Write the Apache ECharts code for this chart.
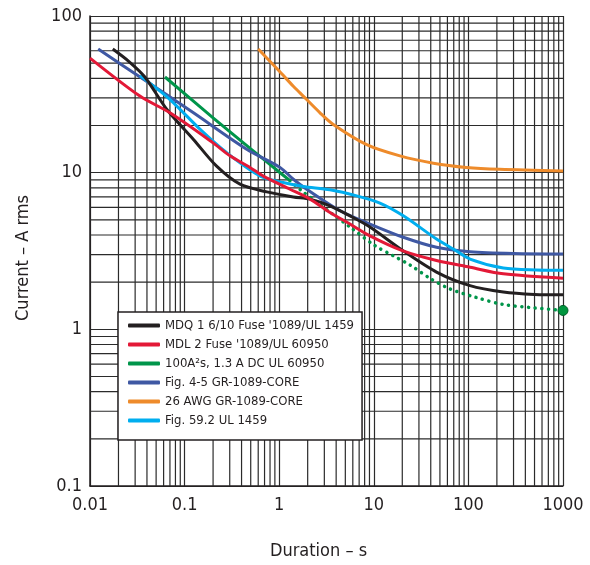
<!DOCTYPE html>
<html>
<head>
<meta charset="utf-8">
<script src="https://cdn.jsdelivr.net/npm/echarts@6/dist/echarts.min.js"></script>
<style>
  html, body { margin: 0; padding: 0; background: #fff; }
  #main { width: 590px; height: 565px; }
</style>
</head>
<body>
<div id="main"></div>
<script>
// durations (s) and currents (A rms)
var blackT = [0.0174, 0.026, 0.038, 0.065, 0.124, 0.218, 0.385, 0.74, 1.41, 2.12, 3.44, 5.6, 9.1, 20, 46, 104, 234, 500, 1000];
var blackI = [61.5, 51, 40.8, 25.3, 16.3, 11.0, 8.44, 7.54, 7.0, 6.78, 6.14, 5.3, 4.5, 3.2, 2.32, 1.9, 1.73, 1.67, 1.66];

var redT = [0.01, 0.034, 0.07, 0.2, 0.302, 0.49, 0.68, 1.3, 2.12, 3.44, 5.6, 9.1, 20, 46, 104, 234, 1000];
var redI = [53.9, 30.7, 24.1, 15.5, 12.8, 10.8, 9.5, 7.84, 6.78, 5.57, 4.7, 3.95, 3.18, 2.75, 2.49, 2.26, 2.12];

var greenT = [0.062, 0.2, 0.5, 1.0, 1.3];
var greenI = [40.8, 22.4, 14.2, 10.1, 8.9];

var greenDotT = [1.3, 1.73, 2.5, 3.44, 5.6, 10.3, 16, 24, 40, 64, 120, 234, 500, 1000];
var greenDotI = [8.9, 7.65, 6.5, 5.6, 4.5, 3.42, 2.95, 2.58, 2.1, 1.81, 1.6, 1.44, 1.37, 1.32];

var blueT = [0.0122, 0.0338, 0.124, 0.453, 1.02, 1.41, 1.95, 4.4, 9.12, 20.5, 46, 104, 300, 1000];
var blueI = [61.5, 40.8, 24.1, 14.1, 10.8, 9.08, 7.84, 5.71, 4.7, 3.87, 3.34, 3.13, 3.05, 3.03];

var orangeT = [0.6, 1.0, 1.41, 1.66, 2.7, 3.73, 8.4, 18.9, 42.6, 95, 214, 1000];
var orangeI = [61.5, 44.5, 35.6, 32.3, 24.1, 20.3, 15.1, 12.8, 11.5, 10.8, 10.5, 10.25];

var cyanT = [0.0338, 0.07, 0.146, 0.279, 0.63, 1.1, 1.8, 3.44, 6.6, 11.6, 20.5, 46, 69, 104, 234, 525, 1000];
var cyanI = [41.6, 29.3, 18.9, 13.4, 9.5, 8.65, 8.17, 7.77, 7.11, 6.4, 5.31, 3.77, 3.26, 2.81, 2.46, 2.39, 2.38];

var names = [
  "MDQ 1 6/10 Fuse '1089/UL 1459",
  "MDL 2 Fuse '1089/UL 60950",
  '100A\u00b2s, 1.3 A DC UL 60950',
  'Fig. 4-5 GR-1089-CORE',
  '26 AWG GR-1089-CORE',
  'Fig. 59.2 UL 1459'
];
var colors = ['#231f20', '#e31937', '#00954a', '#3f58a3', '#ee8b2b', '#00aeef'];

// log paper minor lines (2..9 of every decade)
var xDecades = [0.01, 0.1, 1, 10, 100];
var yDecades = [0.1, 1, 10];
var mult = [2, 3, 4, 5, 6, 7, 8, 9];

var font = "'Liberation Sans Narrow', 'DejaVu Sans Condensed', 'Noto Sans', sans-serif";
var gridColor = '#2b2b2b';

function pairs(t, i) {
  return t.map(function (v, k) { return [v, i[k]]; });
}

var xMinor = [];
xDecades.forEach(function (d) { mult.forEach(function (m) { xMinor.push([+(d * m).toPrecision(3), 1]); }); });
var yMinor = [];
yDecades.forEach(function (d) { mult.forEach(function (m) { yMinor.push([1, +(d * m).toPrecision(3)]); }); });

var chart = echarts.init(document.getElementById('main'));

function curve(idx, t, i) {
  return {
    name: names[idx],
    type: 'line',
    data: pairs(t, i),
    smooth: 0.3,
    symbol: 'none',
    z: 3,
    lineStyle: { color: colors[idx], width: 3 },
    itemStyle: { color: colors[idx] }
  };
}

var dotData = pairs(greenDotT, greenDotI);
dotData[dotData.length - 1] = {
  value: dotData[dotData.length - 1],
  symbol: 'circle',
  symbolSize: 10,
  itemStyle: { color: '#00963f', borderColor: '#005f28', borderWidth: 1 }
};

var option = {
  animation: false,
  grid: { left: 90, top: 16, right: 27, bottom: 77 },
  textStyle: { fontFamily: font },
  legend: {
    data: names,
    orient: 'vertical',
    left: 118,
    top: 312,
    backgroundColor: '#fff',
    borderColor: '#231f20',
    borderWidth: 1.5,
    borderRadius: 0,
    padding: [7, 8, 13, 10],
    itemGap: 6,
    itemWidth: 32,
    itemHeight: 4,
    icon: 'roundRect',
    selectedMode: false,
    textStyle: { fontFamily: font, fontSize: 13, color: '#231f20' }
  },
  xAxis: {
    type: 'log',
    logBase: 10,
    min: 0.01,
    max: 1000,
    name: 'Duration \u2013 s',
    nameLocation: 'middle',
    nameGap: 50,
    nameTextStyle: { fontFamily: font, fontSize: 18, color: '#231f20', padding: [6, 16, 0, 0] },
    axisLine: { show: true, lineStyle: { color: '#231f20', width: 1.5 } },
    axisTick: { show: false },
    axisLabel: {
      fontFamily: font, fontSize: 18, color: '#231f20', margin: 10,
      formatter: function (v) { return String(v); }
    },
    splitLine: { show: true, lineStyle: { color: gridColor, width: 1.2 } }
  },
  yAxis: {
    type: 'log',
    logBase: 10,
    min: 0.1,
    max: 100,
    name: 'Current \u2013 A rms',
    nameLocation: 'middle',
    nameGap: 58,
    nameTextStyle: { fontFamily: font, fontSize: 18, color: '#231f20', padding: [0, 14, 0, 0] },
    axisLine: { show: true, lineStyle: { color: '#231f20', width: 1.5 } },
    axisTick: { show: false },
    axisLabel: {
      fontFamily: font, fontSize: 18, color: '#231f20', margin: 8,
      formatter: function (v) { return String(v); }
    },
    splitLine: { show: true, lineStyle: { color: gridColor, width: 1.2 } }
  },
  series: [
    {
      type: 'custom',
      silent: true,
      z: 1,
      data: xMinor,
      renderItem: function (params, api) {
        var v = api.value(0);
        var p1 = api.coord([v, 0.1]);
        var p2 = api.coord([v, 100]);
        return {
          type: 'line',
          shape: { x1: p1[0], y1: p1[1], x2: p2[0], y2: p2[1] },
          style: { stroke: gridColor, lineWidth: 1.2 }
        };
      }
    },
    {
      type: 'custom',
      silent: true,
      z: 1,
      data: yMinor,
      renderItem: function (params, api) {
        var v = api.value(1);
        var p1 = api.coord([0.01, v]);
        var p2 = api.coord([1000, v]);
        return {
          type: 'line',
          shape: { x1: p1[0], y1: p1[1], x2: p2[0], y2: p2[1] },
          style: { stroke: gridColor, lineWidth: 1.2 }
        };
      }
    },
    curve(4, orangeT, orangeI),
    {
      name: 'dots',
      type: 'line',
      data: dotData,
      smooth: 0.3,
      symbol: 'none',
      z: 3,
      lineStyle: { color: '#00954a', width: 3.5, type: [0.1, 6.6], cap: 'round' }
    },
    curve(2, greenT, greenI),
    curve(3, blueT, blueI),
    curve(5, cyanT, cyanI),
    curve(0, blackT, blackI),
    curve(1, redT, redI)
  ]
};

chart.setOption(option);
window.addEventListener('resize', function () { chart.resize(); });
</script>
</body>
</html>
